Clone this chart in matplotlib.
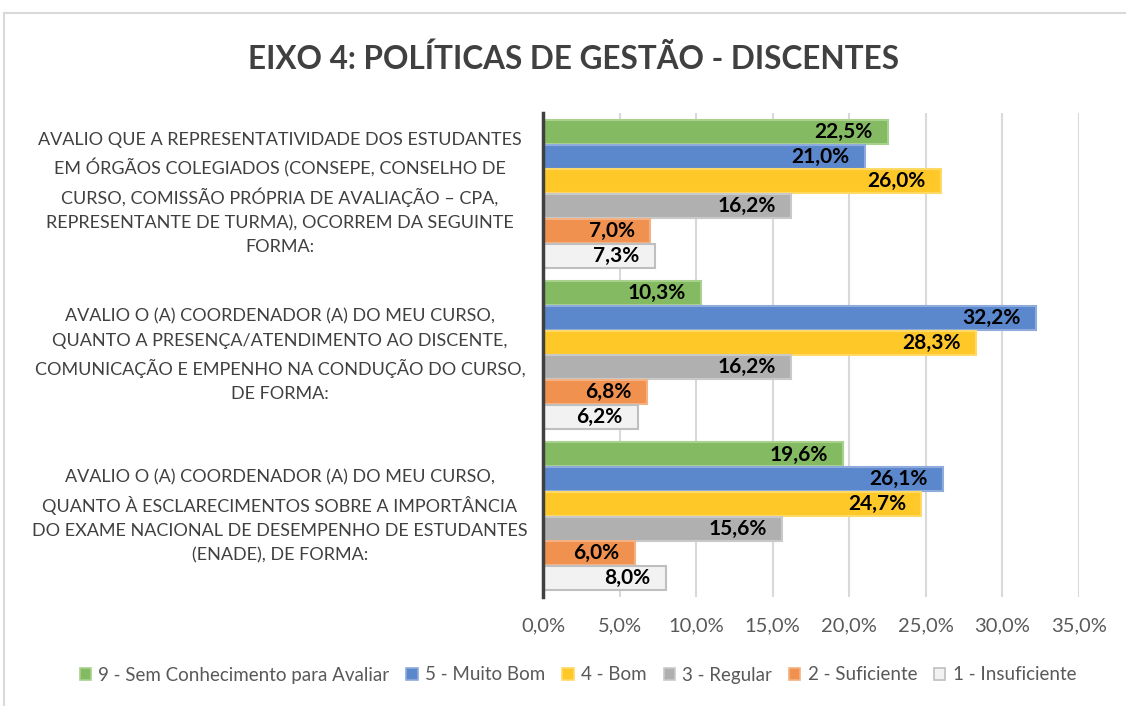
import matplotlib
matplotlib.use("Agg")
import matplotlib.pyplot as plt
import matplotlib.transforms as mtransforms
from matplotlib.patches import Patch
import numpy as np

plt.rcParams['font.family'] = ['Lato', 'DejaVu Sans']

title = "EIXO 4: POLÍTICAS DE GESTÃO - DISCENTES"
categories = [
    "AVALIO QUE A REPRESENTATIVIDADE DOS ESTUDANTES\nEM ÓRGÃOS COLEGIADOS (CONSEPE, CONSELHO DE\nCURSO, COMISSÃO PRÓPRIA DE AVALIAÇÃO – CPA,\nREPRESENTANTE DE TURMA), OCORREM DA SEGUINTE\nFORMA:",
    "AVALIO O (A) COORDENADOR (A) DO MEU CURSO,\nQUANTO A PRESENÇA/ATENDIMENTO AO DISCENTE,\nCOMUNICAÇÃO E EMPENHO NA CONDUÇÃO DO CURSO,\nDE FORMA:",
    "AVALIO O (A) COORDENADOR (A) DO MEU CURSO,\nQUANTO À ESCLARECIMENTOS SOBRE A IMPORTÂNCIA\nDO EXAME NACIONAL DE DESEMPENHO DE ESTUDANTES\n(ENADE), DE FORMA:",
]
series_names = ["9 - Sem Conhecimento para Avaliar", "5 - Muito Bom", "4 - Bom",
                "3 - Regular", "2 - Suficiente", "1 - Insuficiente"]
sem_conhecimento = [22.5, 10.3, 19.6]
muito_bom = [21.0, 32.2, 26.1]
bom = [26.0, 28.3, 24.7]
regular = [16.2, 16.2, 15.6]
suficiente = [7.0, 6.8, 6.0]
insuficiente = [7.3, 6.2, 8.0]
series_values = [sem_conhecimento, muito_bom, bom, regular, suficiente, insuficiente]
xticks = [0, 5, 10, 15, 20, 25, 30, 35]

face_colors = ["#84BA62", "#5B87CC", "#FFC829", "#B0B0B0", "#F0914F", "#F2F2F2"]
edge_colors = ["#A9D18E", "#8FAADC", "#FFD966", "#C9C9C9", "#F4B183", "#BFBFBF"]

W, H = 1126, 706
fig = plt.figure(figsize=(W / 100, H / 100), dpi=100)
ax = fig.add_axes([543 / W, 1 - 597 / H, (1079 - 543) / W, (597 - 113) / H])

n = len(series_values)
group_w = 0.92
bh = group_w / n
y = np.arange(len(categories))
for i, (vals, fc, ec) in enumerate(zip(series_values, face_colors, edge_colors)):
    pos = y - group_w / 2 + bh * (i + 0.5)
    ax.barh(pos, vals, height=bh * 0.97, color=fc, edgecolor=ec, linewidth=1.5,
            label=series_names[i], zorder=3)
    for p, v in zip(pos, vals):
        ax.annotate(f"{v:.1f}%".replace(".", ","), xy=(v, p), xytext=(-11, 0),
                    textcoords="offset points", ha="right", va="center",
                    fontsize=15, fontweight="bold", color="black", zorder=4)

ax.set_ylim(len(categories) - 0.5, -0.5)
ax.set_xlim(0, 35)
ax.set_xticks(xticks)
ax.set_xticklabels([f"{t:.1f}%".replace(".", ",") for t in xticks], fontsize=14.5, color="#595959")
ax.set_yticks([])
ax.tick_params(axis='x', length=0, pad=15)
ax.grid(axis='x', color="#D9D9D9", linewidth=1.5, zorder=0)
for s in ["top", "right", "bottom"]:
    ax.spines[s].set_visible(False)
ax.spines["left"].set_color("#404040")
ax.spines["left"].set_linewidth(2.5)
ax.spines["left"].set_zorder(5)

trans = mtransforms.blended_transform_factory(fig.transFigure, ax.transData)
for yi, cat in zip(y, categories):
    ax.text(280 / W, yi, cat, transform=trans, ha="center", va="center",
            fontsize=13, color="#404040", linespacing=1.62)

fig.text(573 / W, 1 - 59 / H, title, ha="center", va="center", fontsize=22.7,
         fontweight="bold", color="#404040")

handles = [Patch(facecolor=fc, edgecolor=ec, linewidth=1.2) for fc, ec in zip(face_colors, edge_colors)]
fig.legend(handles, series_names, loc="center", bbox_to_anchor=(578 / W, 1 - 675 / H), ncol=6,
           frameon=False, fontsize=13.5, labelcolor="#595959", handlelength=0.6, handleheight=0.6,
           handletextpad=0.4, columnspacing=0.9)

# outer frame
fig.add_artist(plt.Line2D([4 / W, 4 / W], [0, 1 - 13 / H], transform=fig.transFigure, color="#D9D9D9", lw=1.5))
fig.add_artist(plt.Line2D([4 / W, 1], [1 - 13 / H, 1 - 13 / H], transform=fig.transFigure, color="#D9D9D9", lw=1.5))

fig.savefig("out.png", dpi=100)
